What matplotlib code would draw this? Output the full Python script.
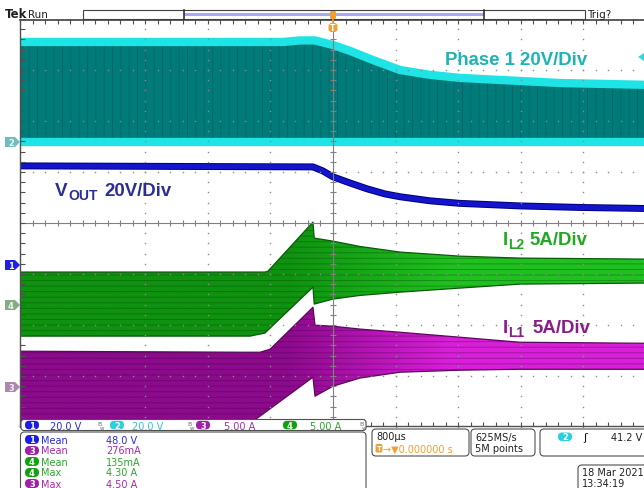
import numpy as np
import matplotlib
matplotlib.use("Agg")
import matplotlib.pyplot as plt
from matplotlib.patches import FancyBboxPatch, Polygon, Rectangle
from matplotlib.colors import LinearSegmentedColormap
from matplotlib.collections import LineCollection
import matplotlib.patheffects as pe

# ---------------- scope settings ----------------
us_per_div = 800
ch1_scale, ch2_scale, ch3_scale, ch4_scale = 20.0, 20.0, 5.0, 5.0
ch1_pos, ch2_pos, ch3_pos, ch4_pos = -0.82, 1.59, -3.22, -1.61   # divisions

# ---------------- data (time in us) ----------------
phase_t  = [-4000, -639, -422, -230, 0, 217, 511, 856, 1240, 1623, 2134, 2901, 3974]
phase_hi = [39.2, 39.2, 39.8, 39.8, 38.0, 35.7, 32.1, 28.2, 26.3, 25.1, 24.3, 23.1, 22.4]
phase_lo = [0.0, 0.0, 0.0, 0.0, 0.0, 0.0, 0.0, 0.0, 0.0, 0.0, 0.0, 0.0, 0.0]

vout_t = [-4000, -256, -128, 0, 217, 435, 665, 856, 1240, 1623, 2390, 3157, 3974]
vout_v = [38.8, 38.4, 36.8, 34.5, 32.1, 29.8, 27.8, 26.7, 25.1, 24.1, 23.1, 22.5, 22.1]

il2_t  = [-4000, -1061, -869, -831, -256, -240, 0, 345, 856, 1623, 2390, 3974]
il2_hi = [3.24, 3.24, 3.24, 3.33, 8.14, 6.57, 6.27, 5.75, 5.20, 4.80, 4.61, 4.51]
il2_lo = [-3.04, -3.04, -2.74, -2.45, 1.76, 0.10, 0.59, 0.95, 1.27, 1.67, 2.06, 2.16]

il1_t  = [-4000, -1150, -933, -805, -256, -230, 0, 345, 856, 1623, 2390, 3974]
il1_hi = [3.53, 3.43, 3.43, 3.72, 7.84, 6.08, 5.98, 5.70, 5.39, 4.90, 4.41, 4.31]
il1_lo = [-4.02, -4.02, -2.84, -2.12, 0.98, -0.88, 0.10, 0.90, 1.47, 1.67, 1.76, 1.76]

# readout texts
scale_ch = ['1', '2', '3', '4']
scale_txt = ['20.0 V', '20.0 V', '5.00 A', '5.00 A']
meas_ch = ['1', '3', '4', '4', '3']
meas_name = ['Mean', 'Mean', 'Mean', 'Max', 'Max']
meas_val = ['48.0 V', '276mA', '135mA', '4.30 A', '4.50 A']
timebase_txt = '800\u00b5s'
trig_pos_txt = '0.000000 s'
rate_txt = ['625MS/s', '5M points']
trig_level_txt = '41.2 V'
date_txt = ['18 Mar 2021', '13:34:19']

badge_col = {'1': '#1c1ce8', '2': '#28d0e0', '3': '#a020a8', '4': '#10a010'}
text_col = {'1': '#2a2ae0', '2': '#30c4d4', '3': '#a828b0', '4': '#28a828'}

plt.rcParams['font.family'] = ['DejaVu Sans']
LAB = 'Liberation Sans'

W, H = 644, 489
fig = plt.figure(figsize=(W / 100, H / 100), dpi=100)
fig.patch.set_facecolor('white')

ax = fig.add_axes([20 / W, (H - 428) / H, 626 / W, 408 / H])
ax.axis('off')


def div(vals, pos, scale):
    return pos + np.asarray(vals, dtype=float) / scale


def grad_band(t, lo, hi, c_left, c_right, t0, t1, z, hatch_col, edge_col):
    poly = ax.fill_between(t, lo, hi, facecolor='none', edgecolor='none', lw=0)
    cmap = LinearSegmentedColormap.from_list('g', [c_left, c_right])
    xs = np.linspace(-4000, 4000, 600)
    g = np.clip((xs - t0) / (t1 - t0), 0, 1)[None, :]
    im = ax.imshow(g, extent=[-4000, 4000, -4.5, 4.5], aspect='auto', cmap=cmap,
                   vmin=0, vmax=1, zorder=z, origin='lower', interpolation='bilinear')
    im.set_clip_path(poly.get_paths()[0], transform=ax.transData)
    ax.fill_between(t, lo, hi, facecolor='none', edgecolor=hatch_col, hatch='---',
                    lw=0, zorder=z + 0.1)
    ax.plot(t, hi, color=edge_col, lw=0.9, zorder=z + 0.2)
    ax.plot(t, lo, color=edge_col, lw=0.9, zorder=z + 0.2)


plt.rcParams['hatch.linewidth'] = 0.7

# Ch2 phase node
p_hi = div(phase_hi, ch2_pos, ch2_scale)
p_lo = div(phase_lo, ch2_pos, ch2_scale)
ax.fill_between(phase_t, p_lo, p_hi, color='#007b79', lw=0, zorder=2)
ax.fill_between(phase_t, p_lo, p_hi, facecolor='none', edgecolor=(0, 0.28, 0.28, 0.35),
                hatch='||', lw=0, zorder=2.1)
ax.plot(phase_t, p_hi, color='#1ee4e6', lw=6, zorder=2.3, solid_capstyle='butt',
        solid_joinstyle='round')
ax.plot(phase_t, p_lo, color='#1ee4e6', lw=6, zorder=2.3, solid_capstyle='butt')

# Ch1 VOUT
ax.plot(vout_t, div(vout_v, ch1_pos, ch1_scale), color='#1414cc', lw=3.6, zorder=3,
        solid_joinstyle='round',
        path_effects=[pe.Stroke(linewidth=5.0, foreground='#00007a'), pe.Normal()])

# Ch4 IL2
grad_band(il2_t, div(il2_lo, ch4_pos, ch4_scale), div(il2_hi, ch4_pos, ch4_scale),
          '#0f920f', '#20c020', -600, 1500, 3, (0, 0.25, 0, 0.35), '#0a5a0a')
# Ch3 IL1
grad_band(il1_t, div(il1_lo, ch3_pos, ch3_scale), div(il1_hi, ch3_pos, ch3_scale),
          '#8c0a8c', '#d820d8', -600, 1500, 3, (0.25, 0, 0.25, 0.35), '#5a0a5a')

# ---------------- graticule ----------------
gx = np.arange(-4000, 4001, us_per_div / 5)
gy = np.arange(-4, 4.001, 0.2)
for k in range(-3, 5):
    if k == 0:
        continue
    ax.plot(np.full_like(gy, k * us_per_div), gy, ls='none', marker='s', ms=1.0,
            mfc='#8c8c8c', mec='none', zorder=6)
for k in range(-3, 4):
    if k == 0:
        continue
    ax.plot(gx, np.full_like(gx, k), ls='none', marker='s', ms=1.0,
            mfc='#8c8c8c', mec='none', zorder=6)
ax.axhline(0, color='#808080', lw=0.8, zorder=6)
ax.axvline(0, color='#808080', lw=0.8, zorder=6)
segs = [[(x, -0.06), (x, 0.06)] for x in gx] + [[(-40, y), (40, y)] for y in gy]
ax.add_collection(LineCollection(segs, colors='#808080', lw=0.8, zorder=6))
# edges
ax.plot([-4000, 4000], [3.99, 3.99], color='#404040', lw=1.2, zorder=7, clip_on=False)
ax.plot([-3995, -3995], [-4, 4], color='#505050', lw=1.0, zorder=7, clip_on=False)
ax.plot([-4000, 4000], [-3.99, -3.99], color='#505050', lw=1.0, zorder=7, clip_on=False)
segs = [[(x, 4), (x, 3.9)] for x in gx] + [[(x, -4), (x, -3.9)] for x in gx] + \
       [[(-4000, y), (-3936, y)] for y in gy]
ax.add_collection(LineCollection(segs, colors='#505050', lw=0.8, zorder=7))
ax.set_xlim(-4000, 4000)
ax.set_ylim(-4, 4)

# ---------------- overlay (pixel coords) ----------------
ov = fig.add_axes([0, 0, 1, 1], zorder=5)
ov.set_xlim(0, W)
ov.set_ylim(H, 0)
ov.axis('off')
ov.patch.set_alpha(0)

# trace labels
ov.text(445, 65, 'Phase 1 20V/Div', family=LAB, weight='bold', fontsize=13.4,
        color='#1db4b4', va='baseline')
ov.text(55, 196, 'V', family=LAB, weight='bold', fontsize=13.6, color='#2d2d96', va='baseline')
ov.text(68.5, 200, 'OUT', family=LAB, weight='bold', fontsize=10, color='#2d2d96', va='baseline')
ov.text(104, 196, '20V/Div', family=LAB, weight='bold', fontsize=13.4, color='#2d2d96', va='baseline')
ov.text(503, 245, 'I', family=LAB, weight='bold', fontsize=13.4, color='#22a822', va='baseline')
ov.text(508.5, 249, 'L2', family=LAB, weight='bold', fontsize=10, color='#22a822', va='baseline')
ov.text(529, 245, '5A/Div', family=LAB, weight='bold', fontsize=13.4, color='#22a822', va='baseline')
ov.text(503, 333, 'I', family=LAB, weight='bold', fontsize=13.4, color='#8b1a8b', va='baseline')
ov.text(508.5, 337, 'L1', family=LAB, weight='bold', fontsize=10, color='#8b1a8b', va='baseline')
ov.text(532, 333, '5A/Div', family=LAB, weight='bold', fontsize=13.4, color='#8b1a8b', va='baseline')

# top bar
ov.text(5, 18, 'Tek', fontsize=8.5, weight='bold', color='#202020', va='baseline')
ov.text(28, 18, 'Run', fontsize=7.5, color='#202020', va='baseline')
ov.add_patch(Rectangle((83, 11), 502, 9, fc='white', ec='#404040', lw=0.8))
ov.add_patch(Rectangle((184, 13.5), 300, 3.5, fc='#a8a8f0', ec='none'))
ov.plot([184, 184], [11, 20], color='#303030', lw=1.2)
ov.plot([484, 484], [11, 20], color='#303030', lw=1.2)
ov.add_patch(FancyBboxPatch((330, 12), 6, 8, boxstyle='round,pad=0,rounding_size=1.5',
                            fc='#f0a030', ec='none'))
ov.add_patch(FancyBboxPatch((328.5, 24), 9, 9, boxstyle='round,pad=0,rounding_size=3',
                            fc='#f0a030', ec='none'))
ov.text(333, 28.8, 'T', fontsize=5.5, weight='bold', color='white', ha='center', va='center')
ov.plot([333, 333], [20, 24], color='#f0a030', lw=1.2)
ov.text(587, 18, 'Trig?', fontsize=7.5, color='#202020', va='baseline')

# left channel markers
for y, fc, lab, tc in [(143, '#74bcbc', '2', '#e0ffff'), (266, '#1e1ef0', '1', 'white'),
                       (306, '#86aa86', '4', '#e8ffe8'), (388, '#aa88aa', '3', '#ffe8ff')]:
    ov.add_patch(Polygon([(5, y - 5), (15, y - 5), (20, y), (15, y + 5), (5, y + 5)],
                         closed=True, fc=fc, ec='none'))
    ov.text(11, y + 0.3, lab, fontsize=6, weight='bold', color=tc, ha='center', va='center')
# trigger level marker at right
ov.add_patch(Polygon([(644, 54), (638, 58), (644, 62)], closed=True, fc='#30d8e0', ec='none'))

# bottom readout bar
ov.add_patch(FancyBboxPatch((21, 420.5), 345, 11, boxstyle='round,pad=0,rounding_size=3',
                            fc='white', ec='#505050', lw=0.8, zorder=1))
bx = [32, 117, 203, 290]
tx = [50, 132, 224, 310]
for ch, s, xb, xt in zip(scale_ch, scale_txt, bx, tx):
    ov.add_patch(FancyBboxPatch((xb - 7, 421.8), 14, 8.5, boxstyle='round,pad=0,rounding_size=4',
                                fc=badge_col[ch], ec='none', zorder=2))
    ov.text(xb, 426.3, ch, fontsize=6, weight='bold', color='white', ha='center', va='center', zorder=3)
    ov.text(xt, 426.5, s, fontsize=7, color=text_col[ch], va='center', zorder=3)
for xw in [97, 187, 359]:
    ov.text(xw, 425, 'B', fontsize=4.5, color='#707070', va='center', zorder=3)
    ov.text(xw + 3, 428, 'w', fontsize=4, color='#707070', va='center', zorder=3)

# measurement box
ov.add_patch(FancyBboxPatch((20.5, 433), 345.5, 60, boxstyle='round,pad=0,rounding_size=4',
                            fc='white', ec='#505050', lw=0.8, zorder=1))
for i, (ch, nm, v) in enumerate(zip(meas_ch, meas_name, meas_val)):
    y = 440.5 + i * 11
    ov.add_patch(FancyBboxPatch((25, y - 4.5), 14, 9, boxstyle='round,pad=0,rounding_size=4.5',
                                fc=badge_col[ch], ec='none', zorder=2))
    ov.text(32, y, ch, fontsize=6, weight='bold', color='white', ha='center', va='center', zorder=3)
    ov.text(41, y, nm, fontsize=7, color=text_col[ch], va='center', zorder=3)
    ov.text(106, y, v, fontsize=7, color=text_col[ch], va='center', zorder=3)

# timebase box
ov.add_patch(FancyBboxPatch((372, 430), 97, 27, boxstyle='round,pad=0,rounding_size=4',
                            fc='white', ec='#505050', lw=0.8, zorder=1))
ov.text(376, 437.5, timebase_txt, fontsize=7, color='#202020', va='center', zorder=3)
ov.add_patch(FancyBboxPatch((375.5, 445), 7, 8.5, boxstyle='round,pad=0,rounding_size=1.5',
                            fc='#f0a030', ec='none', zorder=2))
ov.text(379, 449.3, 'T', fontsize=5, weight='bold', color='white', ha='center', va='center', zorder=3)
ov.text(383, 449.3, '\u2192\u25bc' + trig_pos_txt, fontsize=7, color='#f0a030', va='center', zorder=3)

ov.add_patch(FancyBboxPatch((471, 430), 64, 27, boxstyle='round,pad=0,rounding_size=4',
                            fc='white', ec='#505050', lw=0.8, zorder=1))
ov.text(475, 437.5, rate_txt[0], fontsize=7, color='#202020', va='center', zorder=3)
ov.text(475, 449.3, rate_txt[1], fontsize=7, color='#202020', va='center', zorder=3)

ov.add_patch(FancyBboxPatch((540, 430), 112, 27, boxstyle='round,pad=0,rounding_size=4',
                            fc='white', ec='#505050', lw=0.8, zorder=1))
ov.add_patch(FancyBboxPatch((558, 433.5), 14, 8.5, boxstyle='round,pad=0,rounding_size=4',
                            fc=badge_col['2'], ec='none', zorder=2))
ov.text(565, 438, '2', fontsize=6, weight='bold', color='white', ha='center', va='center', zorder=3)
ov.text(585, 438, '\u0283', fontsize=8, color='#101010', ha='center', va='center', zorder=3)
ov.text(642, 438, trig_level_txt, fontsize=7, color='#202020', ha='right', va='center', zorder=3)

ov.add_patch(FancyBboxPatch((578, 466), 72, 26, boxstyle='round,pad=0,rounding_size=4',
                            fc='white', ec='#505050', lw=0.8, zorder=1))
ov.text(582, 473, date_txt[0], fontsize=7, color='#202020', va='center', zorder=3)
ov.text(582, 484, date_txt[1], fontsize=7, color='#202020', va='center', zorder=3)

fig.savefig('out.png', dpi=100, facecolor='white')
